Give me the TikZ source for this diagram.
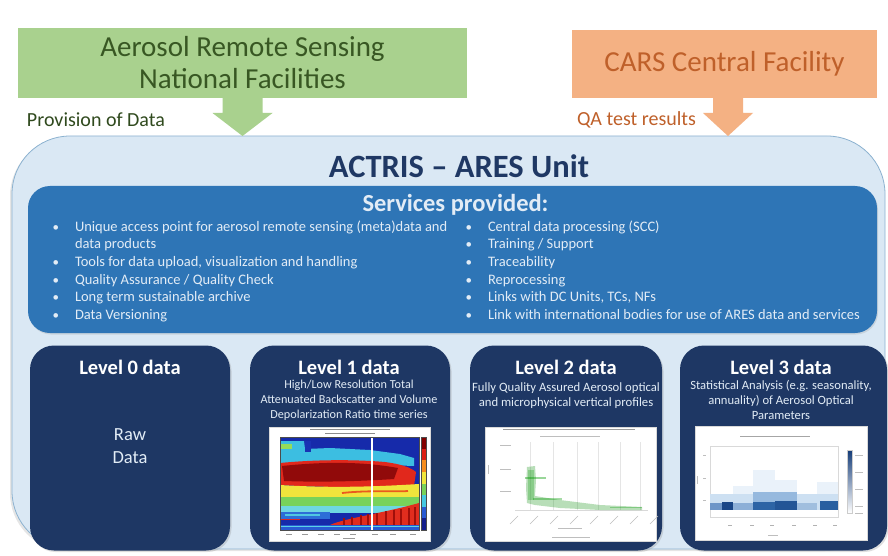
\documentclass[tikz,border=0pt]{standalone}
\usepackage{fontspec}
\setmainfont{Carlito}
\usetikzlibrary{calc,shadows}

\definecolor{nfgreen}{RGB}{169,209,142}
\definecolor{nftext}{RGB}{56,87,35}
\definecolor{cforange}{RGB}{244,177,131}
\definecolor{cftext}{RGB}{191,96,42}
\definecolor{unitfill}{RGB}{218,232,244}
\definecolor{unitline}{RGB}{140,178,208}
\definecolor{navy}{RGB}{31,56,100}
\definecolor{servblue}{RGB}{46,117,182}
\definecolor{levelblue}{RGB}{30,55,100}
\definecolor{bullettext}{RGB}{226,236,246}
\definecolor{plotgrey}{RGB}{190,190,190}
\definecolor{cbtop}{RGB}{20,60,120}

\begin{document}
\begin{tikzpicture}[x=1pt,y=-1pt,
  every node/.style={inner sep=0pt,outer sep=0pt},
  rgbfill/.style args={#1,#2,#3}{fill={rgb,255:red,#1;green,#2;blue,#3}},
  rgbdraw/.style args={#1,#2,#3}{draw={rgb,255:red,#1;green,#2;blue,#3}},
  facility/.style={minimum width=#1,align=center,font=\fontsize{29}{32}\selectfont},
  levelbox/.style={fill=levelblue,rounded corners=24pt,minimum width=#1,minimum height=205pt,
    drop shadow={opacity=0.25,shadow xshift=1.5pt,shadow yshift=-1.5pt}},
  leveltitle/.style={text=white,font=\bfseries\fontsize{20.5}{24}\selectfont},
  levelsub/.style={text=bullettext,align=center,font=\fontsize{#1}{15}\selectfont},
  bulletdot/.style={anchor=base west,text=bullettext,font=\fontsize{13}{15}\selectfont},
  bullettxt/.style={anchor=base west,text=bullettext,font=\fontsize{14.5}{17}\selectfont},
  plotframe/.style={fill=white,draw=white!85!black,line width=0.4pt},
  tinytext/.style={plotgrey,line width=0.8pt}]

\useasboundingbox[fill=white] (0,0) rectangle (888,556);

% ---------- unit container ----------
\node[fill=unitfill,draw=unitline,line width=0.8pt,rounded corners=58pt,
      minimum width=873pt,minimum height=413pt,
      drop shadow={opacity=0.2,shadow xshift=-2pt,shadow yshift=-2pt}] (unit) at (448.5,342.5) {};

% ---------- feeding facilities ----------
\node[facility=449pt,minimum height=70pt,fill=nfgreen,text=nftext] (nf) at (242.5,63)
  {Aerosol Remote Sensing\\National Facilities};
\node[facility=305pt,minimum height=68pt,fill=cforange,text=cftext] (cf) at (724.5,64)
  {CARS Central Facility};

\coordinate (nftip) at (nf.south |- unit.north);
\coordinate (cftip) at ($(cf.south |- unit.north)+(3.5,0)$);

\fill[nfgreen] ($(nf.south)+(-20,-1)$) -- ++(40,0) -- ++(0,16) -- ++(10,0) -- (nftip)
  -- ($(nf.south)+(-30,15)$) -- ++(10,0) -- cycle;
\fill[cforange] ($(cf.south)+(-11.5,-1)$) -- ++(30,0) -- ++(0,16) -- ++(10,0) -- (cftip)
  -- ($(cf.south)+(-21.5,15)$) -- ++(10,0) -- cycle;

\node[anchor=west,text=nftext!85!black,font=\fontsize{20}{24}\selectfont] (prov) at (27,120) {Provision of Data};
\node[anchor=west,text=cftext,font=\fontsize{20}{24}\selectfont] (qa) at (577,120) {QA test results};

% ---------- title ----------
\node[text=navy,font=\bfseries\fontsize{32.5}{36}\selectfont] (title) at (459,166) {ACTRIS – ARES Unit};

% ---------- services ----------
\node[fill=servblue,rounded corners=22pt,minimum width=849pt,minimum height=147pt,
      drop shadow={opacity=0.2,shadow xshift=1pt,shadow yshift=-1.5pt}] (serv) at (452.5,259.5) {};
\node[text=bullettext,font=\bfseries\fontsize{24.5}{28}\selectfont] (servtitle) at (455.5,205) {Services provided:};

\foreach \yy/\txt [count=\i] in {231/{Unique access point for aerosol remote sensing (meta)data and},
    266.5/{Tools for data upload, visualization and handling},
    284/{Quality Assurance / Quality Check},
    301.5/{Long term sustainable archive},
    319/{Data Versioning}} {
  \node[bulletdot] (lb\i) at (52.5,\yy) {•};
  \node[bullettxt] (lt\i) at (75,\yy) {\txt};
}
\node[bullettxt] (lt1b) at (75,248.5) {data products};
\foreach \yy/\txt [count=\i] in {231/{Central data processing (SCC)},
    248.5/{Training / Support},
    266.5/{Traceability},
    284/{Reprocessing},
    301.5/{Links with DC Units, TCs, NFs},
    319/{Link with international bodies for use of ARES data and services}} {
  \node[bulletdot] (rb\i) at (465.5,\yy) {•};
  \node[bullettxt] (rt\i) at (488,\yy) {\txt};
}

% ---------- level boxes ----------
\node[levelbox=200pt] (l0) at (130,448) {};
\node[levelbox=200pt] (l1) at (350,448) {};
\node[levelbox=192pt] (l2) at (566,448) {};
\node[levelbox=207pt] (l3) at (783.5,448) {};

\node[leveltitle] (l0t) at (130,367) {Level 0 data};
\node[text=bullettext,align=center,font=\fontsize{18.5}{23}\selectfont] (l0s) at (130,446.5) {Raw\\Data};

\node[leveltitle] (l1t) at (349,367) {Level 1 data};
\node[levelsub=12.2] (l1s) at (349,400) {High/Low Resolution Total\\Attenuated Backscatter and Volume\\Depolarization Ratio time series};

\node[leveltitle] (l2t) at (566,367) {Level 2 data};
\node[levelsub=12.7] (l2s) at (566,395.5) {Fully Quality Assured Aerosol optical\\and microphysical vertical profiles};

\node[leveltitle] (l3t) at (781,367) {Level 3 data};
\node[levelsub=12.6] (l3s) at (781,400) {Statistical Analysis (e.g. seasonality,\\annuality) of Aerosol Optical\\Parameters};

% ---------- level 1 quicklook (time-height curtain) ----------
\draw[plotframe] (269,427) rectangle (430,541);
\draw[tinytext,black!45,line width=0.7pt] (310,429.5) -- (390,429.5);
\draw[tinytext,black!45,line width=0.7pt] (325,433.5) -- (375,433.5);
\fill[rgbfill={22,42,170}] (280,437) rectangle (419,530);
\begin{scope}
\clip (280,437) rectangle (419,530);
% upper turquoise layer
\fill[rgbfill={60,190,225}] (280,441) -- (304,441) -- (305,449) -- (330,448) -- (370,450) -- (400,454) -- (414,458)
  -- (414,466) -- (360,464) -- (320,464) -- (280,463) -- cycle;
\fill[rgbfill={150,220,90}] (281,444) rectangle (292,449);
\fill[rgbfill={25,50,180}] (305,441) rectangle (311,452);
% red aerosol layer with dark core
\fill[rgbfill={225,40,28}] (280,463) .. controls (310,460) and (350,459) .. (385,462)
  .. controls (400,464) and (410,467) .. (416,472) -- (414,486)
  .. controls (370,487) and (330,488) .. (280,485) -- cycle;
\fill[rgbfill={145,10,10}] (282,466) .. controls (320,462) and (360,461) .. (398,468)
  -- (394,479) .. controls (350,482) and (310,482) .. (284,481) -- cycle;
% yellow / green / cyan stack below
\fill[rgbfill={240,228,60}] (280,485) .. controls (330,488) and (370,487) .. (419,484) -- (419,497)
  -- (280,497) -- cycle;
\draw[rgbdraw={235,90,30},line width=1.8pt] (342,493) .. controls (370,490) and (395,492) .. (408,491);
\fill[rgbfill={120,210,90}] (280,497) rectangle (419,507);
\fill[rgbfill={110,215,225}] (280,506) rectangle (419,513);
\fill[rgbfill={45,110,215}] (280,512) rectangle (330,519);
\fill[rgbfill={80,200,225}] (285,514) rectangle (320,516);
\draw[rgbdraw={220,40,30},line width=1.2pt] (280,519.5) -- (300,519.5);
% near-ground red layer with darker streaks
\fill[rgbfill={225,45,30}] (328,526) .. controls (340,519) and (380,514) .. (419,503) -- (419,526) -- cycle;
\foreach \sx in {344,352,361,368,377,386,394,401,409,415}
  \draw[rgbdraw={160,15,10},line width=1.3pt] (\sx,526) -- (\sx,{518-(\sx-344)*0.16});
\fill[rgbfill={40,90,210}] (280,525) rectangle (419,530);
\draw[rgbdraw={90,210,230},line width=1pt] (280,526.5) -- (419,526.5);
\draw[white,line width=1.2pt] (372,437) -- (372,530);
\end{scope}
\draw[black!70,line width=0.4pt] (280,437) rectangle (419,530);
\foreach \c [count=\k from 0] in {{130,0,0},{220,30,20},{245,140,30},{240,230,60},{120,210,90},{70,200,225},{40,90,210},{20,30,140}} {
  \fill[rgbfill/.expanded={\c}] (421,{437+\k*11.625}) rectangle (426.5,{448.625+\k*11.625});
}
\draw[black!70,line width=0.4pt] (421,437) rectangle (426.5,530);
\foreach \tx in {286,302,318,334,350,372,390,410} \draw[black!40,line width=0.6pt] (\tx,534) -- ++(6,0);
\draw[black!40,line width=0.6pt] (343,538.5) -- ++(12,0);

% ---------- level 2 profile ----------
\draw[plotframe] (485,427) rectangle (656,541);
\draw[tinytext,black!40,line width=0.8pt] (503,429.5) -- (635,429.5);
\draw[tinytext,line width=0.5pt] (540,436) -- (600,436);
\foreach \gx in {530,553,577,598,620,640} \draw[black!10,line width=0.6pt] (\gx,442) -- (\gx,510);
\draw[black!15,line width=0.5pt] (515,510) -- (648,510);
\foreach \gy in {445,469,491} \draw[tinytext,line width=0.6pt] (500,\gy) -- (511,\gy);
\draw[tinytext,line width=0.6pt] (488,465) -- (488,474);
\fill[green!55!black,opacity=0.28] (527,467) -- (535,466) -- (536,480) -- (535,496)
  -- (560,500) -- (600,505) -- (642,507) -- (642,510) -- (600,510) -- (560,508) -- (535,505) -- (527,503) -- (526,488) -- cycle;
\fill[green!60!black,opacity=0.25] (528,470) rectangle (534,500);
\draw[green!60!black,opacity=0.35,line width=1.4pt] (533,499) -- (562,499);
\draw[green!60!black,opacity=0.4,line width=1.2pt] (525,478) -- (546,478);
\draw[green!60!black,opacity=0.3,line width=1.2pt] (610,507.5) -- (642,507.5);
\foreach \tx in {510,530,...,650} \draw[tinytext,line width=0.6pt] (\tx,524) -- ++(8,-8);
\draw[tinytext,line width=0.6pt] (558,528) -- (582,528);
\draw[tinytext,line width=0.6pt] (552,537) -- (590,537);

% ---------- level 3 climatology ----------
\draw[plotframe] (695,426) rectangle (867,540);
\draw[tinytext,black!35,line width=0.7pt] (740,436) -- (810,436);
\draw[black!15,line width=0.4pt] (710,446) rectangle (838,517);
\foreach \tx in {728,750,770,792,813,833} \draw[black!30,line width=0.6pt] (\tx,525) -- ++(4,0);
\draw[tinytext,line width=0.6pt] (768,535) -- (778,535);
\foreach \ty in {455,478,500} \draw[tinytext,line width=0.5pt] (703,\ty) -- (706,\ty);
\draw[tinytext,line width=0.5pt] (697,476) -- (697,484);
\foreach \x/\w/\top in {710/23/495,733/20/486,753/22/470,775/22/480,797/20/500,817/21/482} {
  \fill[rgbfill={234,242,250}] (\x,\top) rectangle ++(\w,{510-\top});
  \fill[rgbfill={205,224,242}] (\x,494) rectangle ++(\w,16);
}
\fill[rgbfill={150,185,222}] (753,492) rectangle (797,503);
\fill[rgbfill={110,150,200}] (710,503) rectangle (722,510);
\fill[rgbfill={25,70,135}] (722,502) rectangle (733,510);
\fill[rgbfill={140,175,215}] (733,503) rectangle (753,510);
\fill[rgbfill={45,100,165}] (753,502) rectangle (775,510);
\fill[rgbfill={35,85,150}] (775,501) rectangle (797,510);
\fill[rgbfill={160,190,222}] (797,503) rectangle (817,510);
\fill[rgbfill={40,95,160}] (820,501) rectangle (838,510);
\shade[top color=cbtop,bottom color=white] (847,450) rectangle (852,513);
\draw[black!20,line width=0.3pt] (847,450) rectangle (852,513);
\foreach \ty in {455,472,489,506,513} \draw[tinytext,line width=0.5pt] (855,\ty) -- (863,\ty);

\end{tikzpicture}
\end{document}
